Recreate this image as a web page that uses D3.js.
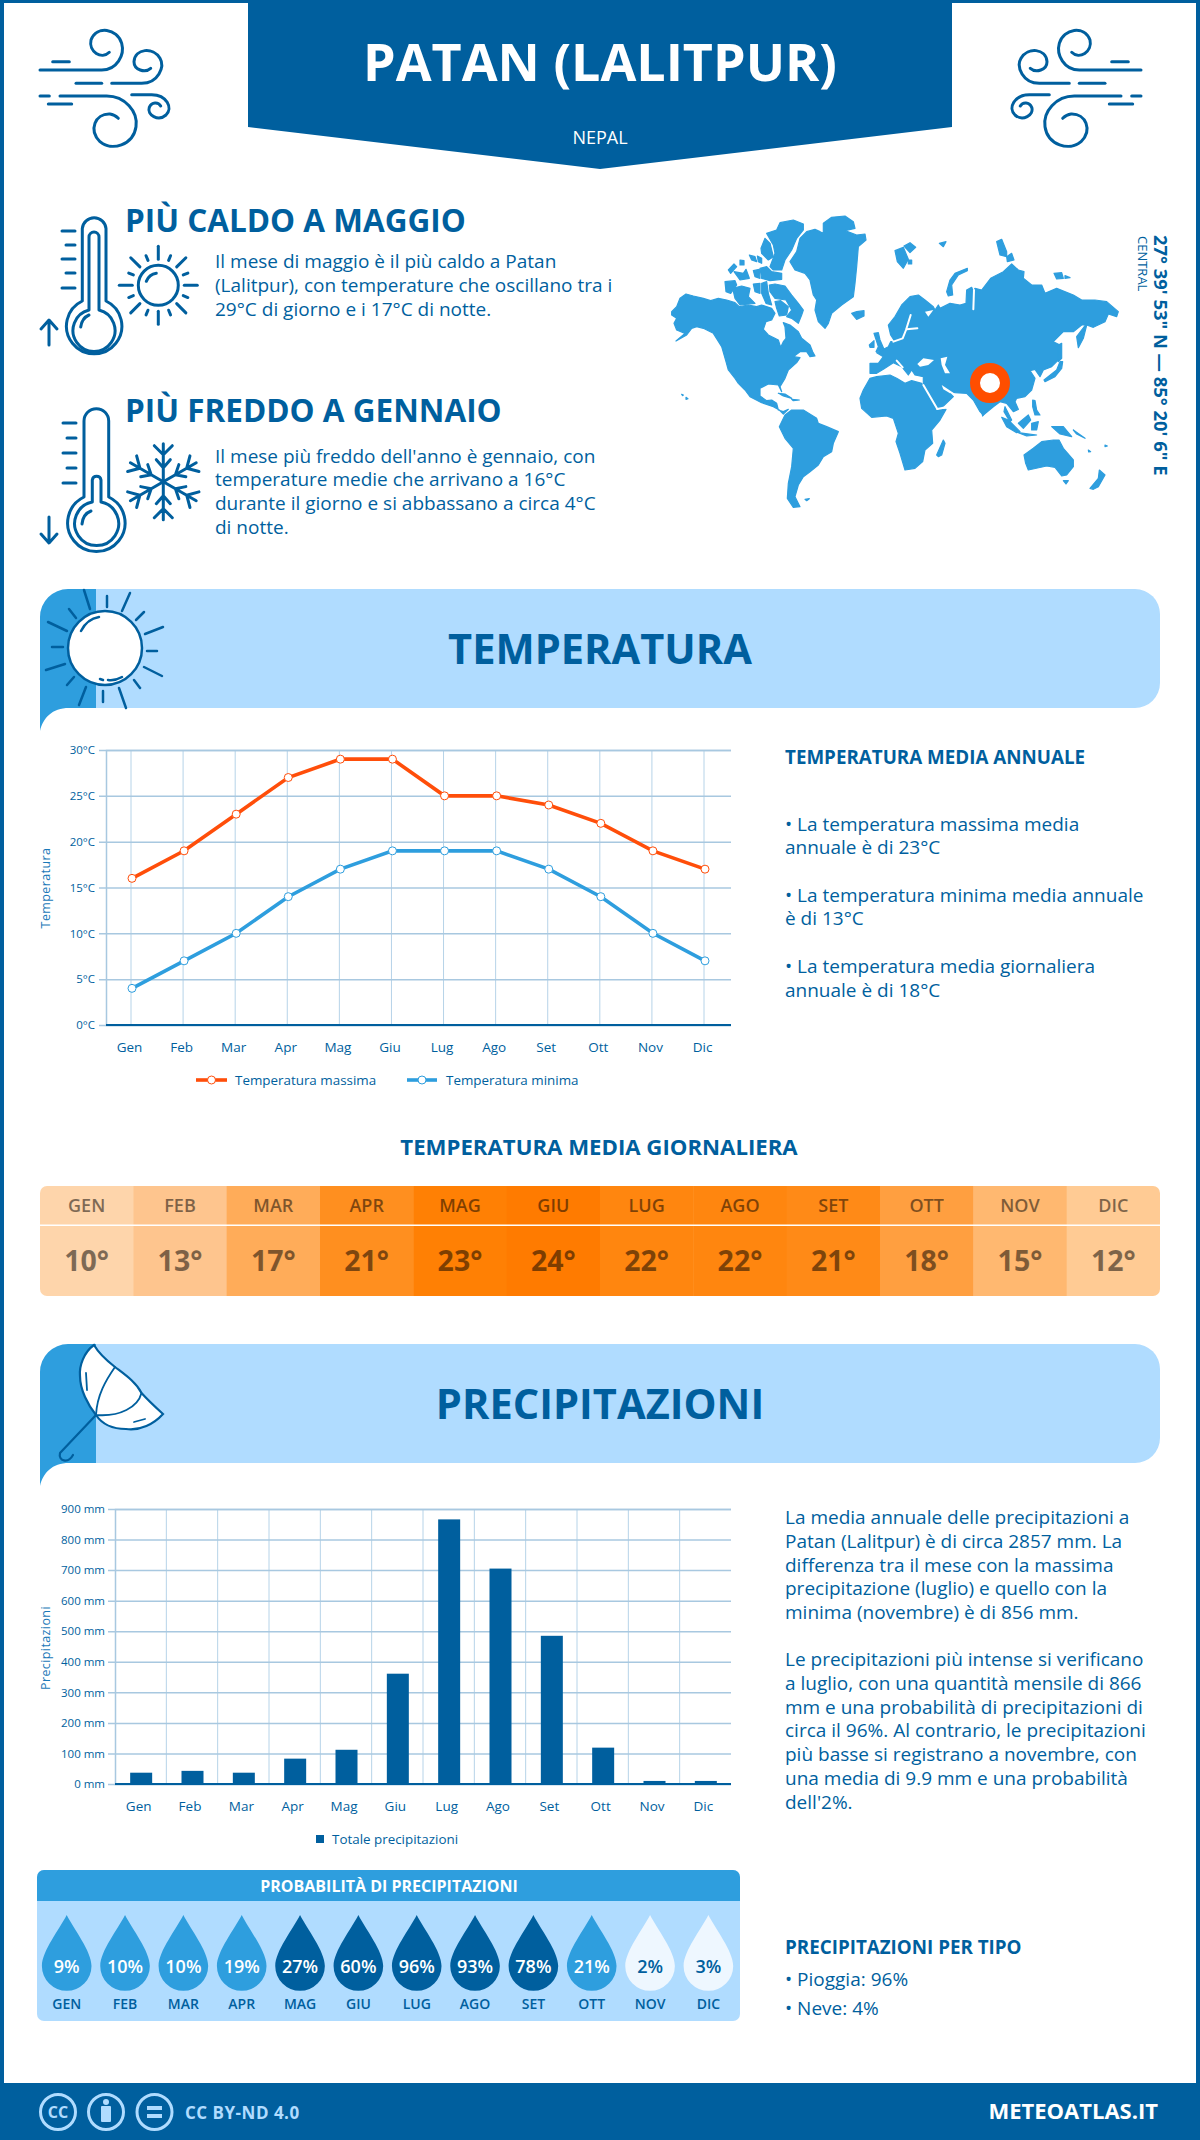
<![CDATA[<!DOCTYPE html>
<html><head><meta charset="utf-8">
<script src="https://cdnjs.cloudflare.com/ajax/libs/d3/7.8.5/d3.min.js"></script>
<style>
html,body{margin:0;padding:0;background:#fff}
svg{display:block}
text{font-family:"Open Sans",sans-serif}
</style></head><body><svg id="c" width="1200" height="2140" viewBox="0 0 1200 2140"></svg>
<script>
const months=["Gen","Feb","Mar","Apr","Mag","Giu","Lug","Ago","Set","Ott","Nov","Dic"];
const monthsUpper=["GEN","FEB","MAR","APR","MAG","GIU","LUG","AGO","SET","OTT","NOV","DIC"];
const tempMax=[16,19,23,27,29,29,25,25,24,22,19,17];
const tempMin=[4,7,10,14,17,19,19,19,17,14,10,7];
const tempMean=[10,13,17,21,23,24,22,22,21,18,15,12];
const heatColors=["#fed5ab","#fec58e","#ffac59","#ff8f1f","#ff8004","#ff7b00","#ff860f","#ff860f","#ff8a17","#ff9f40","#ffb870","#ffcb94"];
const precip=[37,43,37,83,112,361,866,705,485,119,10,10];
const precipProb=[9,10,10,19,27,60,96,93,78,21,2,3];
const tempTicks=[0,5,10,15,20,25,30];
const precipTicks=[0,100,200,300,400,500,600,700,800,900];

const BLUE="#005f9e",MID="#2e9ede",LIGHT="#b0dcff",ORANGE="#ff4e0a",WHITE="#fff";
const svg=d3.select("#c");

function txt(parent,x,y,s,size,opts={}){
  const t=parent.append("text").attr("x",x).attr("y",y).attr("font-size",size)
    .attr("font-weight",opts.w||400).attr("fill",opts.fill||BLUE).attr("text-anchor",opts.a||"start").text(s);
  if(opts.ls)t.attr("letter-spacing",opts.ls);
  if(opts.rot!==undefined)t.attr("transform",`rotate(${opts.rot},${x},${y})`);
  return t;
}
function lines(parent,x,ys,arr,size){arr.forEach((s,i)=>txt(parent,x,ys[i],s,size));}
function stroke(parent,d,w,c){return parent.append("path").attr("d",d).attr("fill","none").attr("stroke",c||BLUE)
  .attr("stroke-width",w||3).attr("stroke-linecap","round").attr("stroke-linejoin","round");}

/* page frame */
svg.append("rect").attr("width",1200).attr("height",3).attr("fill",BLUE);
svg.append("rect").attr("width",4).attr("height",2140).attr("fill",BLUE);
svg.append("rect").attr("x",1196).attr("width",4).attr("height",2140).attr("fill",BLUE);

/* header */
svg.append("path").attr("d","M248,0H952V127L600,169L248,127Z").attr("fill",BLUE);
txt(svg,600,81,"PATAN (LALITPUR)",52,{w:700,fill:WHITE,a:"middle"});
txt(svg,600,144,"NEPAL",18,{fill:WHITE,a:"middle"});

/* wind icons */
function wind(g){
  [ "M40,70H101.7C116.7,70 125,55 121.7,43.3C117.3,28.3 96.7,25 91,40C88.3,51.7 101.7,60 109.3,52.3",
    "M52.7,61.7H69.3","M76,83.3H101.7",
    "M111.7,83.3H141.7C158.3,83.3 165,66.7 160,58.3C153.3,46.7 135,48.3 134,61.7C134,70 145,73.3 150.7,68.3",
    "M40,96H49.3","M60,96H106.7C125,96 138.3,111.7 136,126.7C133.3,145 111.7,151.7 100,141.7C88.3,130 95,113.3 110,114C113.3,114.3 116.7,116.7 118.3,118.3",
    "M131.7,94.7H151.7C166.7,94.7 173.3,108.3 166,115C158.3,121.7 146.7,115 149.3,107.3C151.7,101.7 158.3,101.7 160.7,106",
    "M48.3,104H71.7"
  ].forEach(d=>stroke(g,d,3));
}
wind(svg.append("g"));
wind(svg.append("g").attr("transform","translate(1181,0) scale(-1,1)"));

/* hot block */
txt(svg,125,232,"PIÙ CALDO A MAGGIO",31.5,{w:700});
lines(svg,215,[268,292,316],["Il mese di maggio è il più caldo a Patan","(Lalitpur), con temperature che oscillano tra i","29°C di giorno e i 17°C di notte."],19);
stroke(svg,"M82.3,301V228.5A11.9,11.9 0 0 1 106,228.5V301A27.7,27.7 0 1 1 82.3,301Z",3);
stroke(svg,"M89,310V237A5,5 0 0 1 99,237V310A21,21 0 1 1 89,310Z",3);
stroke(svg,"M80.7,327Q82,318 89,315",3);
[[231,62],[245,66],[259,62],[273,66],[288,62]].forEach(a=>stroke(svg,`M${a[1]},${a[0]}H75`,3));
stroke(svg,"M49,345V321M41,329L49,320L57,329",3);
const sun=svg.append("g").attr("transform","translate(158.3,285.3)");
stroke(sun,"M-20,0A20,20 0 1 1 20,0A20,20 0 1 1 -20,0",3);
stroke(sun,"M-12,-4Q-9,-11 -2,-12",3);
d3.range(16).forEach(i=>{
  const a=i*Math.PI/8,major=i%2===0;
  const r0=major?26:27,r1=major?39:32;
  sun.append("line").attr("x1",r0*Math.cos(a)).attr("y1",r0*Math.sin(a)).attr("x2",r1*Math.cos(a)).attr("y2",r1*Math.sin(a))
    .attr("stroke",BLUE).attr("stroke-width",3).attr("stroke-linecap","round");
});

/* cold block */
txt(svg,125,422,"PIÙ FREDDO A GENNAIO",31.5,{w:700});
lines(svg,215,[463,486,510,534],["Il mese più freddo dell'anno è gennaio, con","temperature medie che arrivano a 16°C","durante il giorno e si abbassano a circa 4°C","di notte."],19);
stroke(svg,"M84,497V421A12.35,12.35 0 0 1 108.7,421V497A28.7,28.7 0 1 1 84,497Z",3);
stroke(svg,"M92.3,502V480A4.4,4.4 0 0 1 101,480V502A22,22 0 1 1 92.3,502Z",3);
stroke(svg,"M82,524Q83,514 91,511",3);
[[423,63],[438,67],[453,63],[468,67],[483,63]].forEach(a=>stroke(svg,`M${a[1]},${a[0]}H76`,3));
stroke(svg,"M49,517V542M41,534L49,543L57,534",3);
const flake=svg.append("g").attr("transform","translate(163.3,481.7)");
d3.range(6).forEach(i=>{
  const g=flake.append("g").attr("transform",`rotate(${i*60})`);
  stroke(g,"M0,0V-38M0,-27L-9,-36M0,-27L9,-36M0,-14L-7,-22M0,-14L7,-22",3);
});

/* world map outlines traced from the picture (crop coordinates, two crops) */
const mapLandWest=[
 [[35,305],[50,290],[60,265],[78,252],[100,258],[130,265],[152,272],[175,265],[200,270],[225,278],[238,290],[265,285],[290,290],[305,285],[335,295],[345,310],[335,330],[318,335],[310,358],[325,375],[355,390],[362,412],[370,395],[378,385],[375,350],[370,338],[390,345],[415,365],[425,385],[450,405],[458,425],[465,438],[450,440],[440,425],[420,425],[400,440],[420,443],[410,458],[385,480],[375,505],[360,530],[365,545],[355,525],[325,522],[300,535],[300,558],[320,572],[335,570],[350,580],[355,600],[370,605],[385,598],[370,612],[358,600],[340,590],[305,578],[270,560],[255,540],[235,520],[225,505],[205,480],[198,455],[185,410],[160,370],[130,355],[110,350],[95,355],[80,375],[48,393],[75,370],[50,360],[42,340],[50,325],[35,315]],
 [[358,650],[375,615],[395,600],[430,600],[470,625],[475,640],[500,650],[535,665],[520,700],[515,725],[490,740],[475,765],[450,785],[430,800],[415,825],[405,860],[420,890],[400,892],[382,865],[385,820],[395,770],[400,715],[375,685]],
 [[390,155],[410,125],[420,85],[440,65],[465,58],[480,65],[490,70],[490,40],[515,22],[555,18],[580,35],[585,55],[555,62],[590,75],[615,72],[618,90],[595,110],[590,170],[585,220],[580,260],[545,285],[515,310],[505,340],[495,355],[475,335],[465,300],[470,270],[460,255],[450,210],[435,190],[405,180]],
 [[320,70],[350,60],[360,38],[400,30],[430,42],[430,60],[410,85],[395,120],[375,150],[365,180],[340,180],[330,170],[345,130],[340,105]],
 [[303,115],[315,85],[330,100],[340,140],[325,150],[305,130]],
 [[300,175],[320,170],[335,185],[365,190],[365,208],[330,212],[305,205]],
 [[205,180],[222,162],[230,170],[212,190]],[[240,150],[252,152],[252,165],[240,165]],[[268,135],[285,140],[290,155],[275,150]],
 [[222,185],[250,190],[258,178],[268,205],[240,210]],[[280,182],[298,178],[300,205],[285,200]],[[292,138],[305,145],[305,160],[295,155]],
 [[195,215],[225,212],[230,225],[212,250],[198,245]],[[218,235],[245,228],[270,235],[265,260],[285,280],[240,285],[225,265]],
 [[280,222],[300,220],[300,250],[285,245]],[[305,220],[320,215],[325,250],[335,285],[318,280],[305,250]],
 [[328,225],[345,222],[375,228],[395,255],[415,280],[430,300],[425,315],[415,340],[395,325],[380,320],[395,300],[378,270],[345,265],[330,245]],
 [[345,275],[362,272],[385,290],[380,315],[358,318],[350,295]],
 [[575,310],[590,305],[612,302],[612,318],[590,328]],
 [[355,550],[375,552],[395,565],[370,558]],[[395,568],[418,570],[400,572]],[[65,553],[70,555],[68,557]],[[78,562],[84,566],[78,568]],[[435,868],[448,866],[440,872]]
];
const mapLandEast=[
 [[30,460],[55,460],[70,440],[50,428],[85,410],[92,395],[105,395],[92,375],[85,345],[105,320],[125,285],[150,260],[175,255],[195,270],[220,290],[225,300],[235,285],[240,295],[270,280],[300,285],[318,280],[320,240],[335,232],[340,245],[345,235],[365,240],[392,205],[430,185],[455,162],[475,180],[492,185],[490,205],[515,225],[545,225],[555,250],[590,235],[640,255],[665,270],[705,270],[740,275],[775,305],[770,320],[745,312],[735,335],[700,352],[680,345],[665,345],[640,365],[610,365],[580,395],[600,405],[600,445],[575,470],[550,480],[540,500],[525,478],[510,482],[525,505],[515,540],[495,560],[470,565],[465,575],[475,598],[460,605],[440,580],[420,575],[400,590],[370,615],[360,605],[340,570],[320,550],[285,548],[260,540],[245,525],[280,560],[240,598],[215,590],[190,525],[190,500],[165,495],[155,480],[145,495],[125,470],[100,458],[70,478],[50,490],[30,490]],
 [[0,565],[10,540],[30,505],[50,500],[90,495],[110,505],[135,520],[155,512],[185,520],[210,570],[230,600],[258,598],[240,630],[215,660],[218,700],[195,720],[188,755],[165,775],[135,780],[120,730],[108,695],[115,670],[100,625],[80,618],[35,622],[5,595]],
 [[42,370],[55,368],[60,390],[72,418],[48,425],[55,410]],[[28,405],[42,392],[42,412],[30,412]],
 [[105,122],[130,112],[145,148],[130,175],[112,155]],[[132,108],[150,98],[167,112],[150,128]],[[145,150],[155,150],[155,162],[145,162]],[[238,100],[258,95],[250,110]],
 [[260,245],[270,210],[285,190],[322,175],[322,182],[295,195],[275,225],[278,255],[265,258]],
 [[410,95],[425,88],[440,125],[440,140],[420,135]],[[440,140],[455,130],[462,150],[442,155]],
 [[582,190],[605,188],[610,205],[590,207]],[[615,197],[630,203],[615,205]],
 [[650,380],[682,338],[670,385],[655,413]],
 [[552,510],[590,480],[600,455],[608,455],[605,475],[585,500],[555,515]],[[595,405],[605,400],[605,445],[595,455]],
 [[365,605],[372,612],[368,618]],
 [[425,622],[445,630],[480,665],[470,668],[440,650]],[[475,668],[530,675],[500,678]],
 [[475,640],[505,615],[512,630],[490,655]],[[515,640],[535,635],[530,660],[515,660]],
 [[518,570],[525,572],[530,600],[540,615],[525,615],[518,590]],[[435,590],[455,630],[450,635],[432,605]],
 [[575,650],[610,650],[635,680],[600,672]],[[640,660],[675,685],[650,672]],[[685,720],[692,725],[686,726]],[[735,705],[742,708],[735,710]],
 [[492,735],[520,715],[545,695],[580,690],[597,690],[610,715],[640,750],[640,770],[620,795],[605,798],[585,772],[560,768],[505,780],[497,760]],
 [[610,812],[625,812],[618,822]],[[690,835],[715,805],[718,780],[735,795],[715,830],[700,838]],
 [[230,735],[250,690],[255,700],[245,735],[235,740]]
];
const mapSeasEast=[
 [[172,462],[190,445],[222,450],[205,465],[180,470]],
 [[242,445],[262,440],[255,465],[270,490],[255,490],[245,465]],
 [[195,305],[220,300],[205,320]],
 [[245,525],[280,548],[270,550],[250,538]]
];
const mapSeaLines=[
 [[100,395],[128,385],[138,360],[152,315]],[[140,358],[172,355]],
 [[342,240],[340,298]],[[110,452],[128,472]],
 [[190,525],[232,597]],[[232,597],[258,592]]
];
const mapWX=d3.scaleLinear([0,780],[660,920]),mapEX=d3.scaleLinear([0,810],[860,1130]),mapYs=d3.scaleLinear([0,930],[210,520]);
const lineW=d3.line().x(p=>mapWX(p[0])).y(p=>mapYs(p[1])).curve(d3.curveLinearClosed);
const lineE=d3.line().x(p=>mapEX(p[0])).y(p=>mapYs(p[1])).curve(d3.curveLinearClosed);
const lineO=d3.line().x(p=>mapEX(p[0])).y(p=>mapYs(p[1]));
const mapG=svg.append("g");
mapLandWest.forEach(p=>mapG.append("path").attr("d",lineW(p)).attr("fill",MID).attr("stroke",MID).attr("stroke-width",1.2).attr("stroke-linejoin","round"));
mapLandEast.forEach(p=>mapG.append("path").attr("d",lineE(p)).attr("fill",MID).attr("stroke",MID).attr("stroke-width",1.2).attr("stroke-linejoin","round"));
mapSeasEast.forEach(p=>mapG.append("path").attr("d",lineE(p)).attr("fill",WHITE));
mapSeaLines.forEach(p=>stroke(mapG,lineO(p),2,WHITE));
svg.append("circle").attr("cx",990).attr("cy",383).attr("r",15).attr("fill",WHITE).attr("stroke","#ff4e00").attr("stroke-width",10);
txt(svg,1154,235,"27° 39' 53\" N — 85° 20' 6\" E",18.4,{w:700,rot:90});
txt(svg,1138,236,"CENTRAL",13,{rot:90});

/* section banners */
function banner(y0,title,tb){
  const y1=y0+119;
  svg.append("path").attr("d",`M96,${y0}H1135A25,25 0 0 1 1160,${y0+25}V${y1-25}A25,25 0 0 1 1135,${y1}H96Z`).attr("fill",LIGHT);
  svg.append("path").attr("d",`M96,${y0}H68A28,28 0 0 0 40,${y0+28}V${y1+23}C43,${y1+10} 52,${y1} 69,${y1}H96Z`).attr("fill",MID);
  txt(svg,600,tb,title,41.6,{w:700,a:"middle"});
}
banner(589,"TEMPERATURA",664);
banner(1344,"PRECIPITAZIONI",1419);
const bigSun=svg.append("g");
bigSun.append("circle").attr("cx",105).attr("cy",648).attr("r",37).attr("fill",WHITE).attr("stroke",BLUE).attr("stroke-width",2.5);
stroke(bigSun,"M81,631Q87,619 99,617",2.5);
stroke(bigSun,"M122,677Q115,681 108,680",2.5);
stroke(bigSun,"M100,679L103,680",2.5);
["M84,590L90,609","M130,593L122,611","M163,627L145,634","M157,651L147,651","M162,676L144,667","M140,688L134,680","M119,688L126,708",
 "M103,691L103,702","M86,687L79,705","M74,677L67,685","M65,664L46,670","M63,647L52,647","M67,631L48,622","M76,618L69,609","M107,607L107,596","M136,620L144,612"]
 .forEach(d=>stroke(bigSun,d,2.5));
/* umbrella */
svg.append("path").attr("d","M94,1345C84,1352 79,1366 80,1376C80,1390 88,1405 96,1415C102,1424 112,1429 126,1429C140,1431 154,1424 163,1414C152,1404 146,1398 141.5,1393C136,1382 124,1374 115,1367C106,1360 98,1352 94,1345Z").attr("fill",WHITE).attr("stroke",BLUE).attr("stroke-width",2.2);
stroke(svg,"M96,1415L60,1453C58,1461 68,1464 73,1455",2.2);
stroke(svg,"M115,1367C106,1380 97,1395 96,1415M141.5,1393C138,1407 120,1417 96,1415M86,1373L87,1390M134,1422L145,1419",1.8);

/* temperature chart */
const tX=d3.scalePoint().domain(months).range([132,705]);
const tY=d3.scaleLinear().domain([0,30]).range([1025,750]);
const tg=svg.append("g");
tg.append("g").selectAll("line").data(months.map(m=>tX(m)-1)).join("line").attr("x1",d=>d).attr("x2",d=>d).attr("y1",750).attr("y2",1025).attr("stroke","#b6d3e8").attr("stroke-width",1);
tg.append("g").attr("transform","translate(106,0)")
  .call(d3.axisLeft(tY).tickValues(tempTicks).tickFormat(d=>d+"°C").tickSize(-625).tickPadding(9))
  .call(g=>{g.select(".domain").attr("stroke","#a8c8e0").attr("stroke-width",1.5);
    g.selectAll(".tick line").attr("stroke","#a8c8e0").attr("stroke-width",1.5).attr("x1",-7);
    g.selectAll("text").attr("font-size",11.5).attr("fill",BLUE).attr("x",-11);});
tg.append("line").attr("x1",106).attr("x2",731).attr("y1",1025).attr("y2",1025).attr("stroke",BLUE).attr("stroke-width",2);
tg.append("g").attr("transform","translate(-3,1025)")
  .call(d3.axisBottom(tX).tickSize(0).tickPadding(17))
  .call(g=>{g.select(".domain").remove();g.selectAll("text").attr("font-size",13.5).attr("fill",BLUE);});
txt(tg,50,888,"Temperatura",12.5,{a:"middle",fill:"#1a78b8",ls:.4,rot:-90});
const tLine=d3.line().x((d,i)=>tX(months[i])).y(d=>tY(d));
[[tempMax,ORANGE],[tempMin,MID]].forEach(([s,c])=>{
  tg.append("path").attr("d",tLine(s)).attr("fill","none").attr("stroke",c).attr("stroke-width",3.6);
  tg.append("g").selectAll("circle").data(s).join("circle").attr("cx",(d,i)=>tX(months[i])).attr("cy",d=>tY(d)).attr("r",4)
    .attr("fill",WHITE).attr("stroke",c).attr("stroke-width",1);
});
[[196,227,235,"Temperatura massima",ORANGE],[407,437,446,"Temperatura minima",MID]].forEach(l=>{
  tg.append("line").attr("x1",l[0]).attr("x2",l[1]).attr("y1",1080).attr("y2",1080).attr("stroke",l[4]).attr("stroke-width",3.6);
  tg.append("circle").attr("cx",(l[0]+l[1])/2).attr("cy",1080).attr("r",4).attr("fill",WHITE).attr("stroke",l[4]);
  txt(tg,l[2],1084.5,l[3],13.4);
});

/* temperature text */
txt(svg,785,764,"TEMPERATURA MEDIA ANNUALE",18.8,{w:700});
lines(svg,785,[831,854,902,925,973,997],["• La temperatura massima media","annuale è di 23°C","• La temperatura minima media annuale","è di 13°C","• La temperatura media giornaliera","annuale è di 18°C"],19);

/* heat table */
txt(svg,599,1155,"TEMPERATURA MEDIA GIORNALIERA",22.2,{w:700,a:"middle"});
const hX=d3.scaleBand().domain(d3.range(12)).range([40,1160]);
svg.append("clipPath").attr("id","hc").append("rect").attr("x",40).attr("y",1186).attr("width",1120).attr("height",110).attr("rx",7);
const hg=svg.append("g").attr("clip-path","url(#hc)");
hg.selectAll("rect").data(tempMean).join("rect").attr("x",(d,i)=>hX(i)).attr("y",1186).attr("width",hX.bandwidth()+.5).attr("height",110).attr("fill",(d,i)=>heatColors[i]);
hg.append("rect").attr("x",40).attr("y",1224.5).attr("width",1120).attr("height",1.5).attr("fill",WHITE);
tempMean.forEach((d,i)=>{
  txt(svg,hX(i)+hX.bandwidth()/2,1212,monthsUpper[i],18,{w:600,a:"middle",fill:"#000"}).attr("opacity",.5);
  txt(svg,hX(i)+hX.bandwidth()/2,1271,d+"°",28.5,{w:700,a:"middle",fill:"#000"}).attr("opacity",.5);
});

/* precipitation chart */
const pX=d3.scaleBand().domain(months).range([115,731]);
const pY=d3.scaleLinear().domain([0,900]).range([1784,1509]);
const pg=svg.append("g");
pg.append("g").selectAll("line").data(months.slice(1)).join("line").attr("x1",d=>pX(d)).attr("x2",d=>pX(d)).attr("y1",1509).attr("y2",1784).attr("stroke","#b6d3e8").attr("stroke-width",1);
pg.append("g").attr("transform","translate(115,0)")
  .call(d3.axisLeft(pY).tickValues(precipTicks).tickFormat(d=>d+" mm").tickSize(-616))
  .call(g=>{g.select(".domain").attr("stroke","#a8c8e0").attr("stroke-width",1.5);
    g.selectAll(".tick line").attr("stroke","#a8c8e0").attr("stroke-width",1.5).attr("x1",-7);
    g.selectAll("text").attr("font-size",11.5).attr("fill",BLUE).attr("x",-10);});
pg.append("g").selectAll("rect").data(precip).join("rect")
  .attr("x",(d,i)=>pX(months[i])+pX.bandwidth()/2-10.5).attr("width",22).attr("y",d=>pY(d)).attr("height",d=>1784-pY(d)).attr("fill",BLUE);
pg.append("line").attr("x1",115).attr("x2",731).attr("y1",1784).attr("y2",1784).attr("stroke",BLUE).attr("stroke-width",2);
pg.append("g").attr("transform","translate(-2,1784)")
  .call(d3.axisBottom(pX).tickSize(0).tickPadding(17))
  .call(g=>{g.select(".domain").remove();g.selectAll("text").attr("font-size",13.5).attr("fill",BLUE);});
txt(pg,50,1648,"Precipitazioni",12.5,{a:"middle",fill:"#1a78b8",ls:.4,rot:-90});
pg.append("rect").attr("x",316).attr("y",1835).attr("width",8).attr("height",8).attr("fill",BLUE);
txt(pg,332,1843.5,"Totale precipitazioni",13.4);

/* precipitation text */
const pLinesA=["La media annuale delle precipitazioni a","Patan (Lalitpur) è di circa 2857 mm. La","differenza tra il mese con la massima","precipitazione (luglio) e quello con la","minima (novembre) è di 856 mm."];
const pLinesB=["Le precipitazioni più intense si verificano","a luglio, con una quantità mensile di 866","mm e una probabilità di precipitazioni di","circa il 96%. Al contrario, le precipitazioni","più basse si registrano a novembre, con","una media di 9.9 mm e una probabilità","dell'2%."];
lines(svg,785,pLinesA.map((s,i)=>1524+i*23.8),pLinesA,19);
lines(svg,785,pLinesB.map((s,i)=>1666+i*23.8),pLinesB,19);

/* probability panel */
svg.append("rect").attr("x",37).attr("y",1870).attr("width",703).attr("height",151).attr("rx",7).attr("fill",LIGHT);
svg.append("path").attr("d","M37,1901V1877A7,7 0 0 1 44,1870H733A7,7 0 0 1 740,1877V1901Z").attr("fill",MID);
txt(svg,389,1892,"PROBABILITÀ DI PRECIPITAZIONI",16,{w:700,a:"middle",fill:WHITE});
const dX=d3.scalePoint().domain(d3.range(12)).range([66.7,708.4]);
precipProb.forEach((d,i)=>{
  const g=svg.append("g").attr("transform",`translate(${dX(i)},1966)`);
  const c=d<5?"#eef7ff":d<25?MID:BLUE;
  g.append("path").attr("d","M0,-51C7,-37 24.8,-15 24.8,0A24.8,24.8 0 0 1 -24.8,0C-24.8,-15 -7,-37 0,-51Z").attr("fill",c);
  txt(g,0,7,d+"%",18,{w:600,a:"middle",fill:d<5?BLUE:WHITE});
  txt(g,0,43,monthsUpper[i],14,{w:600,a:"middle"});
});
txt(svg,785,1954,"PRECIPITAZIONI PER TIPO",18.8,{w:700});
lines(svg,785,[1986,2015],["• Pioggia: 96%","• Neve: 4%"],19);

/* footer */
svg.append("rect").attr("y",2083).attr("width",1200).attr("height",57).attr("fill",BLUE);
[58,106,154.5].forEach(x=>svg.append("circle").attr("cx",x).attr("cy",2112).attr("r",17.5).attr("fill","none").attr("stroke",LIGHT).attr("stroke-width",3));
txt(svg,58,2118,"CC",16,{w:700,a:"middle",fill:LIGHT});
svg.append("circle").attr("cx",106).attr("cy",2102).attr("r",3).attr("fill",LIGHT);
svg.append("rect").attr("x",101).attr("y",2106).attr("width",10).attr("height",16).attr("rx",1).attr("fill",LIGHT);
svg.append("rect").attr("x",147).attr("y",2106).attr("width",15).attr("height",4).attr("fill",LIGHT);
svg.append("rect").attr("x",147).attr("y",2114).attr("width",15).attr("height",4).attr("fill",LIGHT);
txt(svg,185,2119,"CC BY-ND 4.0",17,{w:700,fill:LIGHT,ls:.5});
txt(svg,1158,2119,"METEOATLAS.IT",22,{w:700,fill:WHITE,a:"end"});
</script></body></html>]]>
